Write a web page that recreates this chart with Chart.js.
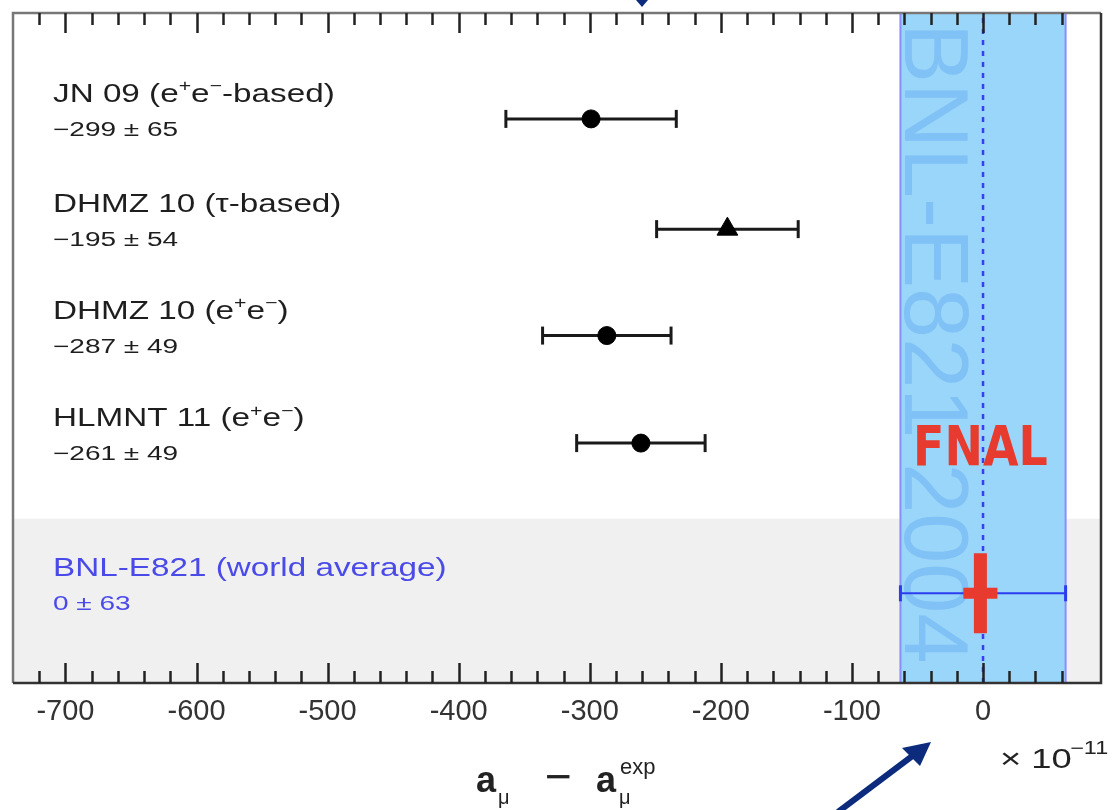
<!DOCTYPE html>
<html>
<head>
<meta charset="utf-8">
<script src="https://cdn.jsdelivr.net/npm/chart.js@4.4.0/dist/chart.umd.min.js"></script>
<style>
html, body { margin: 0; padding: 0; background: #fff; }
canvas { display: block; }
</style>
</head>
<body>
<canvas id="grafico" width="1116" height="810"></canvas>
<script>
// datos
const names = ['JN 09 (e^{+}e^{−}-based)', 'DHMZ 10 (τ-based)', 'DHMZ 10 (e^{+}e^{−})', 'HLMNT 11 (e^{+}e^{−})', 'BNL-E821 (world average)'];
const values = [-299, -195, -287, -261, 0];
const errors = [65, 54, 49, 49, 63];
const markers = ['circle', 'triangle', 'circle', 'circle'];
const rows = [5.22, 4.2, 3.215, 2.22, 0.83];
const fnalValue = -2;
const fnalError = 13;
const xLabels = [-700, -600, -500, -400, -300, -200, -100, 0];
const bandLabel = 'BNL-E821 2004';

const X_MIN = -740, X_MAX = 90, Y_MAX = 6.2, GRAY_TOP = 1.52;
const SX = 1.33; // el texto original esta estirado en horizontal

function fmtValue(i) {
    const v = values[i];
    return (v < 0 ? '−' + Math.abs(v) : String(v)) + ' ± ' + errors[i];
}

// dibuja texto con ^{..} como superindice
function drawRich(ctx, str, x, y, size, color, sx) {
    const parts = str.match(/\^\{[^}]*\}|[^^]+/g);
    ctx.save();
    ctx.translate(x, y);
    ctx.scale(sx, 1);
    ctx.fillStyle = color;
    ctx.textBaseline = 'alphabetic';
    let cx = 0;
    parts.forEach(p => {
        if (p.startsWith('^{')) {
            const t = p.slice(2, -1);
            ctx.font = Math.round(size * 0.62) + 'px "Liberation Sans", Arial, sans-serif';
            ctx.fillText(t, cx, -size * 0.42);
            cx += ctx.measureText(t).width;
        } else {
            ctx.font = size + 'px "Liberation Sans", Arial, sans-serif';
            ctx.fillText(p, cx, 0);
            cx += ctx.measureText(p).width;
        }
    });
    ctx.restore();
}

const datasets = [];
// cruz FNAL
datasets.push({
    data: [{x: fnalValue, y: rows[4] - 0.37}, {x: fnalValue, y: rows[4] + 0.37}],
    showLine: true, borderColor: '#e63b2e', borderWidth: 13, pointRadius: 0, borderCapStyle: 'butt'
});
datasets.push({
    data: [{x: fnalValue - fnalError, y: rows[4]}, {x: fnalValue + fnalError, y: rows[4]}],
    showLine: true, borderColor: '#e63b2e', borderWidth: 11, pointRadius: 0, borderCapStyle: 'butt'
});
// marcadores
datasets.push({
    data: markers.map((m, i) => ({x: values[i], y: rows[i]})),
    pointStyle: markers,
    pointRadius: markers.map(m => m === 'triangle' ? 12 : 9),
    pointBackgroundColor: '#000', pointBorderColor: '#000', pointBorderWidth: 1
});
// barras de error
values.forEach((v, i) => {
    const bnl = i === 4;
    const col = bnl ? '#2b3cf0' : '#1a1a1a';
    datasets.push({
        data: [{x: v - errors[i], y: rows[i]}, {x: v + errors[i], y: rows[i]}],
        showLine: true, borderColor: col, borderWidth: bnl ? 2 : 3,
        pointStyle: 'line', pointRotation: 90, pointRadius: bnl ? 8 : 9,
        pointBorderWidth: 3, pointBorderColor: col
    });
});
// linea punteada en cero
datasets.push({
    data: [{x: 0, y: 0}, {x: 0, y: Y_MAX}],
    showLine: true, borderColor: '#3c3cf5', borderWidth: 2.5, borderDash: [5, 6], pointRadius: 0
});

const fondo = {
    id: 'fondo',
    beforeDatasetsDraw(chart) {
        const {ctx, chartArea: a, scales: {x, y}} = chart;
        ctx.save();
        const yg = y.getPixelForValue(GRAY_TOP);
        ctx.fillStyle = '#f0f0f0';
        ctx.fillRect(a.left, yg, a.right - a.left, a.bottom - yg);
        const x1 = x.getPixelForValue(values[4] - errors[4]);
        const x2 = x.getPixelForValue(values[4] + errors[4]);
        ctx.fillStyle = '#9ad6f9';
        ctx.fillRect(x1, a.top, x2 - x1, a.bottom - a.top);
        ctx.strokeStyle = '#8c8cff';
        ctx.lineWidth = 2;
        ctx.beginPath();
        ctx.moveTo(x1, a.top); ctx.lineTo(x1, a.bottom);
        ctx.moveTo(x2, a.top); ctx.lineTo(x2, a.bottom);
        ctx.stroke();
        ctx.translate(x1 + 5, a.top + 10);
        ctx.rotate(Math.PI / 2);
        ctx.font = '90px "Liberation Sans", Arial, sans-serif';
        ctx.fillStyle = '#80c1f6';
        ctx.textBaseline = 'alphabetic';
        ctx.fillText(bandLabel, 0, 0);
        ctx.restore();
    },
    afterDraw(chart) {
        const {ctx, chartArea: a, scales: {x, y}} = chart;
        ctx.save();
        // marco
        ctx.lineWidth = 2.5;
        ctx.strokeStyle = '#777';
        ctx.beginPath();
        ctx.moveTo(a.left, a.bottom); ctx.lineTo(a.left, a.top); ctx.lineTo(a.right, a.top);
        ctx.stroke();
        ctx.strokeStyle = '#333';
        ctx.beginPath();
        ctx.moveTo(a.left, a.bottom); ctx.lineTo(a.right, a.bottom); ctx.lineTo(a.right, a.top);
        ctx.stroke();
        // ticks hacia dentro
        ctx.strokeStyle = '#222';
        ctx.lineWidth = 2.5;
        ctx.beginPath();
        x.ticks.forEach(t => {
            if (t.value <= X_MIN || t.value >= X_MAX) return;
            const px = Math.round(x.getPixelForValue(t.value)) + 0.5;
            const len = t.value % 100 === 0 ? 20 : 12;
            ctx.moveTo(px, a.bottom); ctx.lineTo(px, a.bottom - len);
            ctx.moveTo(px, a.top); ctx.lineTo(px, a.top + len);
        });
        ctx.stroke();

        // etiquetas de cada fila
        names.forEach((n, i) => {
            const py = y.getPixelForValue(rows[i]);
            const col = i === 4 ? '#4a4ae8' : '#1e1e1e';
            drawRich(ctx, n, 53, py - 17, 25, col, SX);
            drawRich(ctx, fmtValue(i), 53, py + 17, 20, col, 1.4);
        });

        // FNAL
        ctx.save();
        ctx.translate(x.getPixelForValue(fnalValue), y.getPixelForValue(2.02));
        ctx.scale(0.82, 1);
        ctx.font = 'bold 56px "DejaVu Sans", sans-serif';
        ctx.fillStyle = '#e63b2e';
        ctx.textAlign = 'center';
        ctx.fillText('FNAL', 0, 0);
        ctx.restore();

        // titulo del eje x
        ctx.fillStyle = '#222';
        ctx.textBaseline = 'alphabetic';
        ctx.font = 'bold 36px "Liberation Sans", Arial, sans-serif';
        ctx.fillText('a', 476, 792);
        ctx.fillText('a', 596, 792);
        ctx.font = '20px "Liberation Sans", Arial, sans-serif';
        ctx.fillText('μ', 498, 804);
        ctx.fillText('μ', 619, 804);
        ctx.font = '22px "Liberation Sans", Arial, sans-serif';
        ctx.fillText('exp', 620, 774);
        ctx.font = '46px "Liberation Sans", Arial, sans-serif';
        ctx.fillText('−', 545, 792);

        // x 10^-11
        ctx.save();
        ctx.translate(1000, 768);
        ctx.scale(1.3, 1);
        ctx.font = '28px "Liberation Sans", Arial, sans-serif';
        ctx.fillText('× 10', 0, 0);
        ctx.font = '18px "Liberation Sans", Arial, sans-serif';
        ctx.fillText('−11', 54, -14);
        ctx.restore();

        // flechas
        ctx.fillStyle = '#0c2b7c';
        ctx.strokeStyle = '#0c2b7c';
        ctx.lineWidth = 6;
        ctx.beginPath();
        ctx.moveTo(838, 812); ctx.lineTo(915, 754);
        ctx.stroke();
        ctx.beginPath();
        ctx.moveTo(931, 742); ctx.lineTo(902, 748); ctx.lineTo(920, 766);
        ctx.closePath();
        ctx.fill();
        ctx.beginPath();
        ctx.moveTo(636, 0); ctx.lineTo(648, 0); ctx.lineTo(642, 7);
        ctx.closePath();
        ctx.fill();
        ctx.restore();
    }
};

new Chart(document.getElementById('grafico'), {
    type: 'scatter',
    data: { datasets: datasets },
    options: {
        responsive: false,
        devicePixelRatio: 1,
        animation: false,
        events: [],
        layout: { padding: { left: 13, right: 15, top: 12, bottom: 0 } },
        plugins: { legend: { display: false }, tooltip: { enabled: false } },
        scales: {
            x: {
                type: 'linear', min: X_MIN, max: X_MAX,
                grid: { display: false, drawTicks: false },
                border: { display: false },
                afterFit: s => { s.height = 127; },
                ticks: {
                    stepSize: 20, autoSkip: false, maxRotation: 0, padding: 12,
                    color: '#333',
                    font: { family: '"Liberation Sans", Arial, sans-serif', size: 29 },
                    callback: v => xLabels.includes(v) ? String(v) : ''
                }
            },
            y: { type: 'linear', min: 0, max: Y_MAX, display: false }
        }
    },
    plugins: [fondo]
});
</script>
</body>
</html>
